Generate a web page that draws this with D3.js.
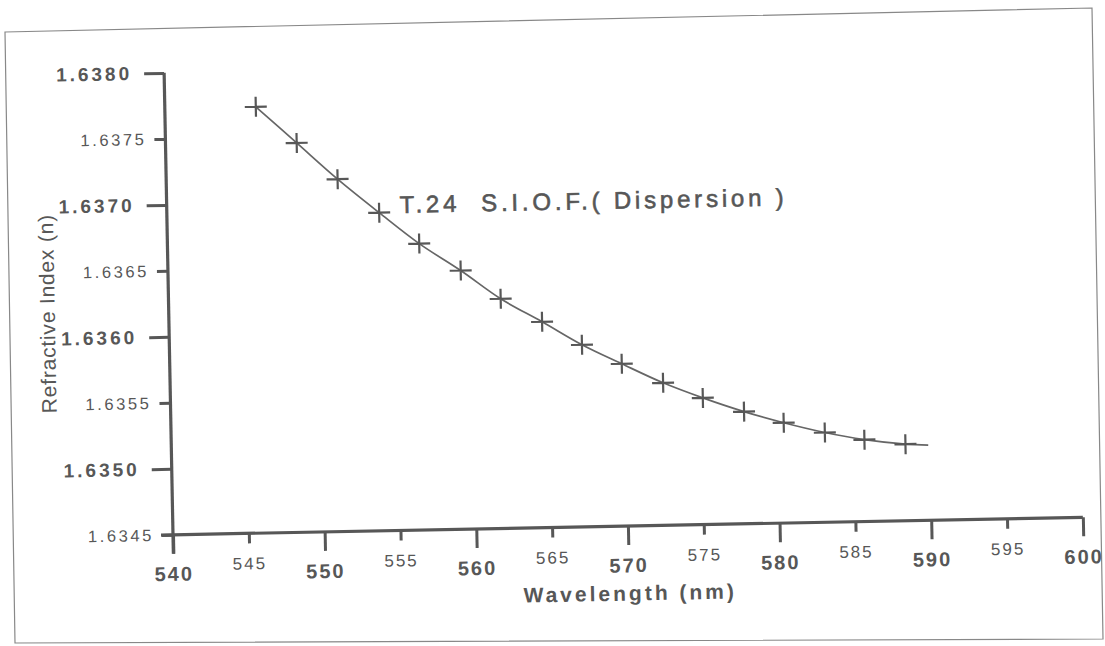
<!doctype html>
<html lang="en">
<head>
  <meta charset="utf-8">
  <script src="https://cdn.jsdelivr.net/npm/d3@7"></script>
  <title>T.24 S.I.O.F. Dispersion</title>
  <style>
    body { margin: 0; background: #fff; }
    svg text { font-family: "Liberation Sans", Arial, sans-serif; }
  </style>
</head>
<body>
  <svg id="chart" width="1105" height="646"></svg>
  <script>
    // measured points (wavelength in nm, refractive index n)
    const wavelength = [546.0, 548.65, 551.3, 554.0, 556.6, 559.3, 561.9, 564.6, 567.2,
                        569.8, 572.5, 575.1, 577.8, 580.4, 583.1, 585.7, 588.4];
    const refIndex = [1.63773, 1.63745, 1.63717, 1.63691, 1.63667, 1.63646, 1.63624, 1.63606, 1.63588,
                      1.63573, 1.63558, 1.63546, 1.63535, 1.63526, 1.63518, 1.63512, 1.63508];
    // fitted curve runs a little past the last point
    const curveEnd = [589.9, 1.63507];

    const xMajor = [540, 550, 560, 570, 580, 590, 600];
    const xMinor = [545, 555, 565, 575, 585, 595];
    const yMajor = [1.6350, 1.6360, 1.6370, 1.6380];
    const yMinor = [1.6345, 1.6355, 1.6365, 1.6375];

    const ink = "#575757";
    const svg = d3.select("#chart");

    // page frame of the scan (slightly skewed)
    svg.append("path")
      .attr("d", "M5,32 L1092,8 L1103,639 L15,643 Z")
      .attr("fill", "none")
      .attr("stroke", "#888")
      .attr("stroke-width", 1.2);

    // the whole chart sits a little rotated, like the scanned page
    const g = svg.append("g").attr("transform", "rotate(-1.1, 552, 323)");

    const x = d3.scaleLinear().domain([540, 600]).range([169, 1079]);
    const y = d3.scaleLinear().domain([1.6345, 1.6380]).range([527.5, 65.5]);
    const fmt = d3.format(".4f");

    // y axis: long ticks with big labels, short ticks with small labels
    const yMaj = g.append("g").attr("transform", "translate(169,0)")
      .call(d3.axisLeft(y).tickValues(yMajor).tickSize(20).tickPadding(12).tickFormat(fmt));
    yMaj.selectAll("text").style("font-size", "19px").style("font-weight", "bold")
      .style("letter-spacing", "3px").attr("fill", ink);
    const yMin = g.append("g").attr("transform", "translate(169,0)")
      .call(d3.axisLeft(y).tickValues(yMinor).tickSize(11).tickPadding(8).tickFormat(fmt));
    yMin.selectAll("text").style("font-size", "16.5px")
      .style("letter-spacing", "2.6px").attr("fill", ink);

    // x axis
    const xMaj = g.append("g").attr("transform", "translate(0,527.5)")
      .call(d3.axisBottom(x).tickValues(xMajor).tickSize(19).tickPadding(13).tickFormat(d3.format("d")));
    xMaj.selectAll("text").style("font-size", "20px").style("font-weight", "bold")
      .style("letter-spacing", "2px").attr("fill", ink);
    const xMin = g.append("g").attr("transform", "translate(0,527.5)")
      .call(d3.axisBottom(x).tickValues(xMinor).tickSize(10).tickPadding(14).tickFormat(d3.format("d")));
    xMin.selectAll("text").style("font-size", "17px")
      .style("letter-spacing", "2px").attr("fill", ink);

    g.selectAll(".domain").attr("stroke", ink).attr("stroke-width", 3.2);
    g.selectAll(".tick line").attr("stroke", ink).attr("stroke-width", 3);
    // x axis line reaches a bit past the y axis on the left
    xMaj.select(".domain").attr("d", "M157,0H" + x(600));
    xMin.select(".domain").remove();
    yMin.select(".domain").remove();
    yMaj.select(".domain").attr("d", "M0," + y(1.6380) + "V" + (y(1.6345) + 19));

    // axis titles
    g.append("text")
      .attr("x", 625).attr("y", 602)
      .attr("text-anchor", "middle")
      .style("font-size", "21px").style("font-weight", "bold").style("letter-spacing", "3px")
      .attr("fill", ink)
      .text("Wavelength (nm)");
    g.append("text")
      .attr("transform", "translate(55,304) rotate(-90)")
      .attr("text-anchor", "middle")
      .style("font-size", "21px").style("letter-spacing", "0.8px")
      .attr("fill", ink)
      .text("Refractive Index (n)");

    // label inside the plot
    g.append("text")
      .attr("x", 402).attr("y", 210)
      .style("font-size", "24px").style("letter-spacing", "3.8px")
      .style("stroke", ink).style("stroke-width", 0.6)
      .attr("fill", ink)
      .attr("xml:space", "preserve")
      .text("T.24  S.I.O.F.( Dispersion )");

    // fitted curve
    const pts = wavelength.map((w, i) => [w, refIndex[i]]);
    const line = d3.line()
      .x(d => x(d[0]))
      .y(d => y(d[1]))
      .curve(d3.curveCatmullRom);
    g.append("path")
      .datum(pts.concat([curveEnd]))
      .attr("d", line)
      .attr("fill", "none")
      .attr("stroke", "#666")
      .attr("stroke-width", 1.7);

    // plus markers
    const arm = 11;
    g.append("g").selectAll("path")
      .data(pts)
      .enter()
      .append("path")
        .attr("d", d => {
          const px = x(d[0]), py = y(d[1]);
          return "M" + (px - arm) + "," + py + "H" + (px + arm) +
                 "M" + px + "," + (py - arm + 1) + "V" + (py + arm - 1);
        })
        .attr("stroke", ink)
        .attr("stroke-width", 2.2)
        .attr("fill", "none");
  </script>
</body>
</html>
